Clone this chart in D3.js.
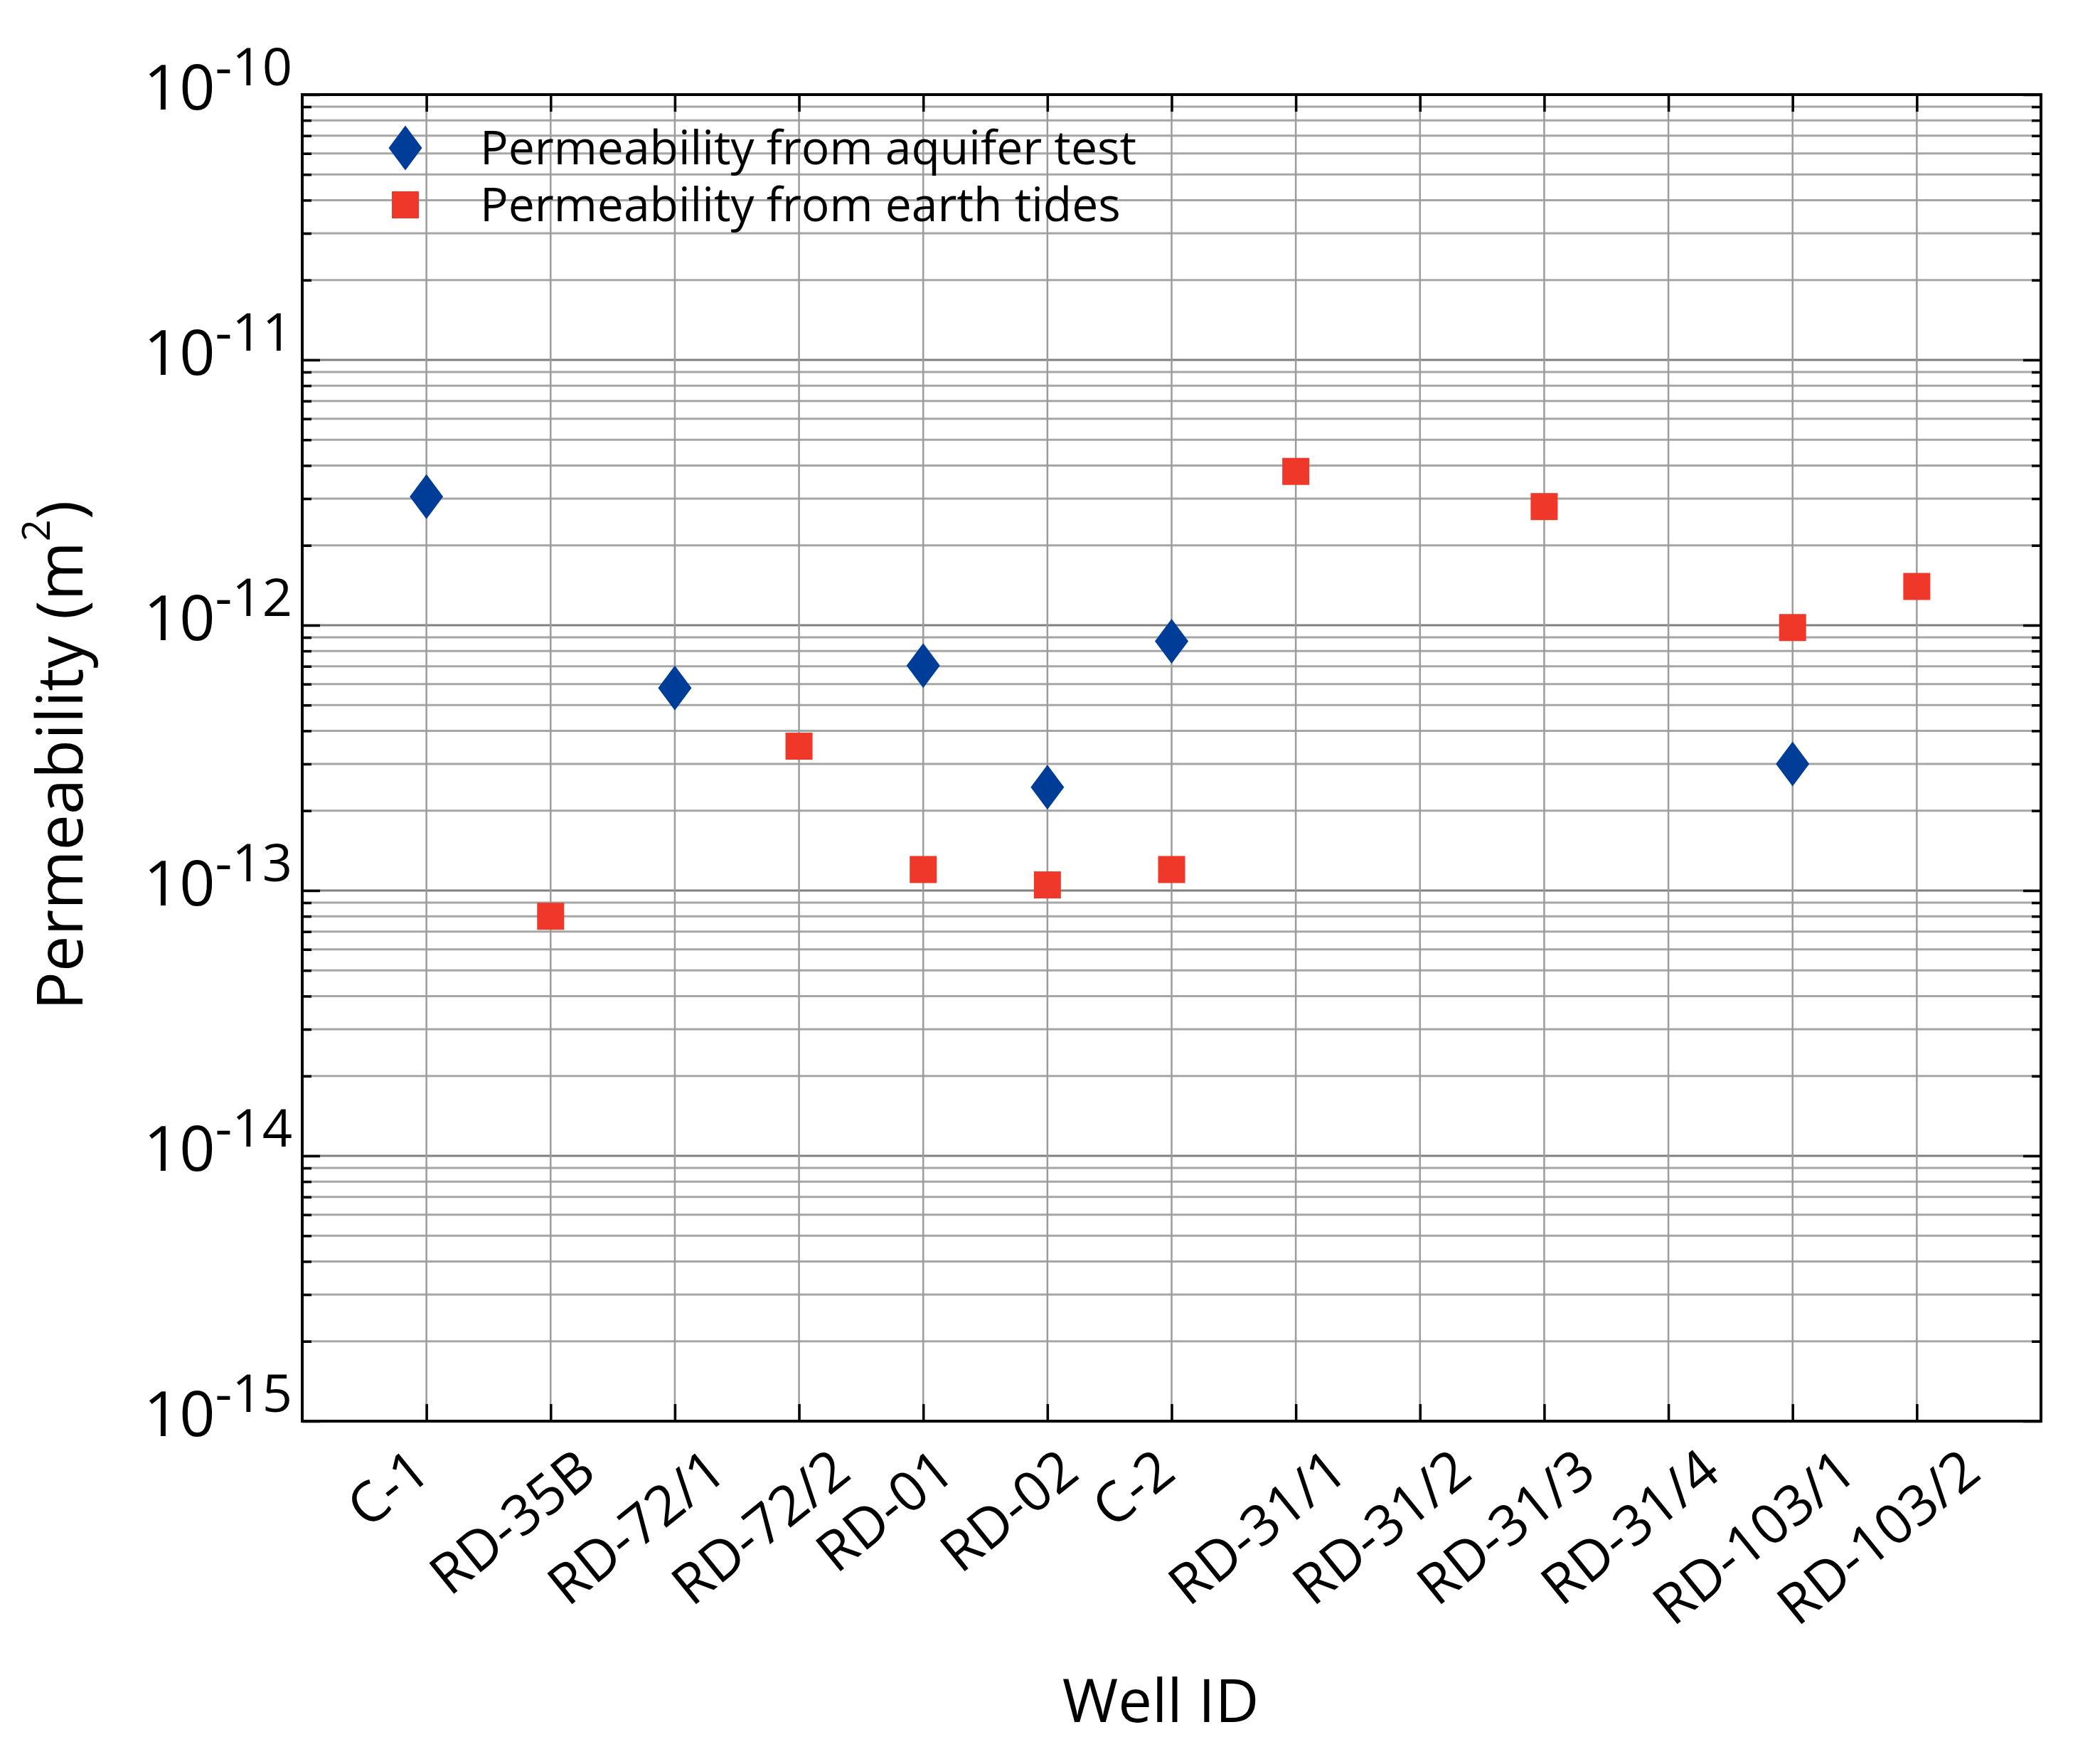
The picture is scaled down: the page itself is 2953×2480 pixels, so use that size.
<!DOCTYPE html>
<html lang="en">
<head>
<meta charset="UTF-8">
<title>Permeability by well</title>
<script src="https://d3js.org/d3.v7.min.js"></script>
<style>
  body { margin: 0; background: #fff; }
  text { font-family: "Open Sans", "Noto Sans", sans-serif; fill: #000; }
</style>
</head>
<body>
<div id="chart"></div>
<script>
  // data
  const wells = ["C-1", "RD-35B", "RD-72/1", "RD-72/2", "RD-01", "RD-02", "C-2",
                 "RD-31/1", "RD-31/2", "RD-31/3", "RD-31/4", "RD-103/1", "RD-103/2"];
  const aquiferTest = [3.05e-12, null, 5.8e-13, null, 7.05e-13, 2.45e-13, 8.7e-13,
                       null, null, null, null, 3.0e-13, null];
  const earthTides = [null, 8.0e-14, null, 3.5e-13, 1.2e-13, 1.05e-13, 1.2e-13,
                      3.8e-12, null, 2.8e-12, null, 9.8e-13, 1.4e-12];
  const yExponents = [-10, -11, -12, -13, -14, -15];
  const seriesNames = ["Permeability from aquifer test", "Permeability from earth tides"];

  const width = 2953, height = 2480;
  const plotL = 425, plotR = 2870, plotT = 133, plotB = 1998;
  const blue = "#003d99", red = "#f0382a";

  const svg = d3.select("#chart").append("svg")
      .attr("width", width)
      .attr("height", height);

  const x = d3.scaleLinear().domain([0, wells.length + 1]).range([plotL, plotR]);
  const y = d3.scaleLog().domain([1e-15, 1e-10]).range([plotB, plotT]);

  const allTicks = y.ticks();
  const isMajor = d => Math.abs(Math.log10(d) - Math.round(Math.log10(d))) < 1e-6;
  const majors = allTicks.filter(isMajor);
  const minors = allTicks.filter(d => !isMajor(d));
  const cats = d3.range(1, wells.length + 1);

  // grid
  svg.append("g").selectAll("line")
    .data(allTicks)
    .join("line")
      .attr("x1", plotL).attr("x2", plotR)
      .attr("y1", d => y(d)).attr("y2", d => y(d))
      .attr("stroke", d => isMajor(d) ? "#808080" : "#a6a6a6")
      .attr("stroke-width", 3);

  svg.append("g").selectAll("line")
    .data(cats)
    .join("line")
      .attr("x1", d => x(d)).attr("x2", d => x(d))
      .attr("y1", plotT).attr("y2", plotB)
      .attr("stroke", "#9c9c9c")
      .attr("stroke-width", 2.5);

  // ticks on all four sides, pointing inward
  function styleAxis(g) {
    g.select(".domain").remove();
    g.selectAll(".tick line").attr("stroke", "#000").attr("stroke-width", 3.5);
    g.selectAll(".tick text").remove();
  }
  svg.append("g").attr("transform", `translate(0,${plotB})`)
    .call(d3.axisBottom(x).tickValues(cats).tickSize(-24)).call(styleAxis);
  svg.append("g").attr("transform", `translate(0,${plotT})`)
    .call(d3.axisTop(x).tickValues(cats).tickSize(-24)).call(styleAxis);
  svg.append("g").attr("transform", `translate(${plotL},0)`)
    .call(d3.axisLeft(y).tickValues(majors).tickSize(-25)).call(styleAxis);
  svg.append("g").attr("transform", `translate(${plotL},0)`)
    .call(d3.axisLeft(y).tickValues(minors).tickSize(-13)).call(styleAxis);
  svg.append("g").attr("transform", `translate(${plotR},0)`)
    .call(d3.axisRight(y).tickValues(majors).tickSize(-25)).call(styleAxis);
  svg.append("g").attr("transform", `translate(${plotR},0)`)
    .call(d3.axisRight(y).tickValues(minors).tickSize(-13)).call(styleAxis);

  // frame
  svg.append("rect")
    .attr("x", plotL).attr("y", plotT)
    .attr("width", plotR - plotL).attr("height", plotB - plotT)
    .attr("fill", "none").attr("stroke", "#000").attr("stroke-width", 4);

  // y tick labels 10^n
  const ylab = svg.append("g").selectAll("text")
    .data(yExponents)
    .join("text")
      .attr("x", 411)
      .attr("y", d => y(Math.pow(10, d)) + 21)
      .attr("text-anchor", "end")
      .attr("font-size", 88);
  ylab.append("tspan").text("10");
  ylab.append("tspan").attr("dy", -34).attr("font-size", 74).text(d => "-" + Math.abs(d));

  // x tick labels, rotated
  const ang = 39 * Math.PI / 180;
  svg.append("g").selectAll("text")
    .data(wells)
    .join("text")
      .attr("text-anchor", "middle")
      .attr("font-size", 78)
      .text(d => d)
      .each(function(d, i) {
        const len = this.getComputedTextLength();
        const mx = x(i + 1) - 37;
        const my = plotB + 78 + (len / 2) * Math.sin(ang);
        d3.select(this).attr("transform", `translate(${mx},${my}) rotate(-39)`);
      });

  // markers
  const diamond = "M0,-31.5L23.5,0L0,31.5L-23.5,0Z";
  svg.append("g").selectAll("path")
    .data(aquiferTest.map((v, i) => ({ i: i + 1, v })).filter(d => d.v != null))
    .join("path")
      .attr("d", diamond)
      .attr("transform", d => `translate(${x(d.i)},${y(d.v)})`)
      .attr("fill", blue);

  svg.append("g").selectAll("rect")
    .data(earthTides.map((v, i) => ({ i: i + 1, v })).filter(d => d.v != null))
    .join("rect")
      .attr("x", d => x(d.i) - 19)
      .attr("y", d => y(d.v) - 19)
      .attr("width", 38).attr("height", 38)
      .attr("fill", red);

  // legend
  const legend = svg.append("g");
  legend.append("path").attr("d", diamond).attr("transform", "translate(570,208)").attr("fill", blue);
  legend.append("rect").attr("x", 551).attr("y", 269).attr("width", 38).attr("height", 38).attr("fill", red);
  legend.selectAll("text")
    .data(seriesNames)
    .join("text")
      .attr("x", 675)
      .attr("y", (d, i) => 231 + i * 80)
      .attr("font-size", 66)
      .text(d => d);

  // axis titles
  const yt = svg.append("text")
    .attr("transform", "translate(116,1062) rotate(-90)")
    .attr("text-anchor", "middle")
    .attr("font-size", 90);
  yt.append("tspan").text("Permeability (m");
  yt.append("tspan").attr("dy", -46).attr("font-size", 54).text("2");
  yt.append("tspan").attr("dy", 46).text(")");

  svg.append("text")
    .attr("x", 1632).attr("y", 2421)
    .attr("text-anchor", "middle")
    .attr("font-size", 85)
    .text("Well ID");
</script>
</body>
</html>
